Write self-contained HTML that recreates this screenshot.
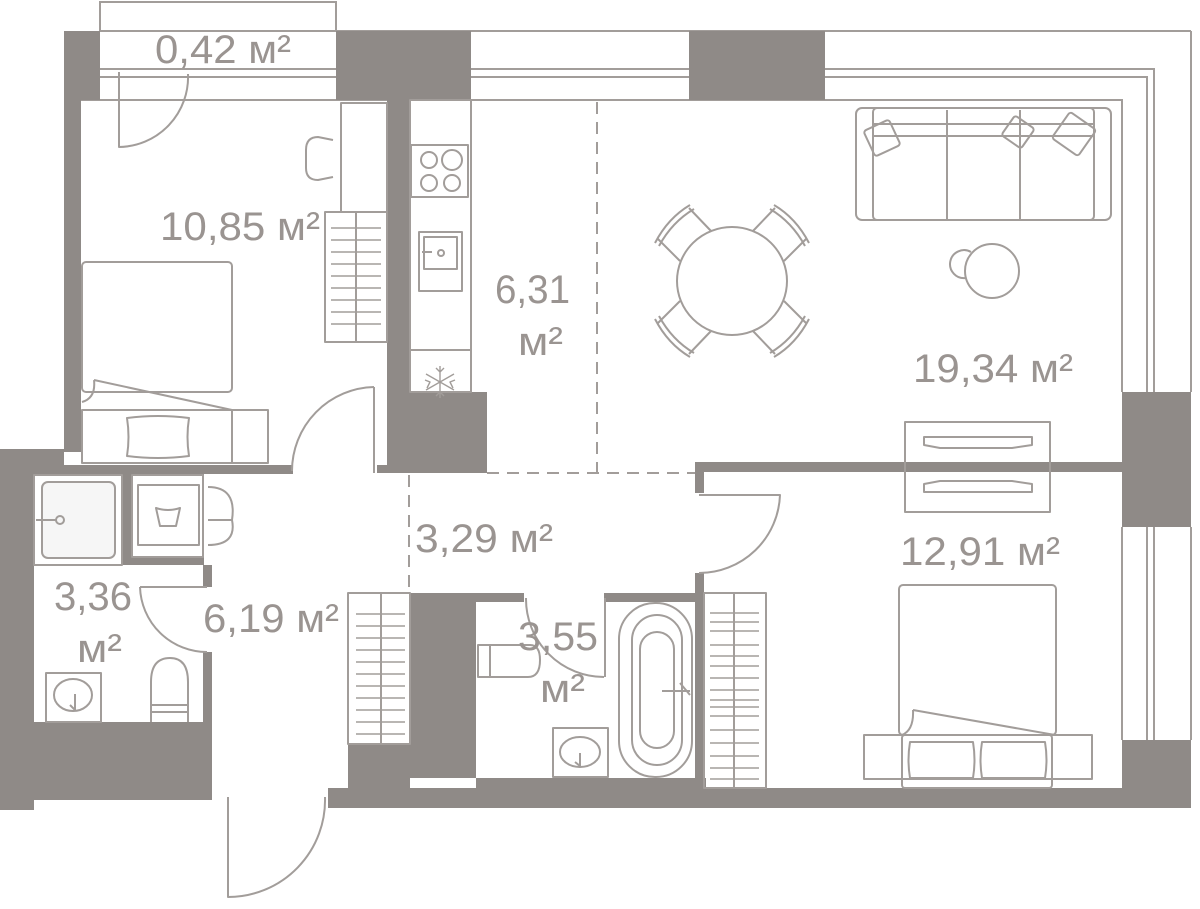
<!DOCTYPE html>
<html><head><meta charset="utf-8"><style>
html,body{margin:0;padding:0;background:#fff;}
svg{display:block;}
text{font-family:"Liberation Sans",sans-serif;fill:#9a9491;font-size:40px;}
</style></head><body>
<svg width="1200" height="909" viewBox="0 0 1200 909" xmlns="http://www.w3.org/2000/svg">
<g fill="none" stroke="#a29d9a" stroke-width="2">
<rect x="100" y="2" width="236" height="29"/>
<line x1="100" y1="69" x2="336" y2="69"/><line x1="100" y1="77" x2="336" y2="77"/>
<line x1="336" y1="31" x2="1191" y2="31"/>
<line x1="1191" y1="31" x2="1191" y2="392"/>
<polyline points="471,69 1154,69 1154,392"/>
<polyline points="471,77 1147,77 1147,392"/>
<polyline points="81,100 1122,100 1122,392"/>
<line x1="1147" y1="527" x2="1147" y2="740"/><line x1="1154" y1="527" x2="1154" y2="740"/>
<line x1="1191" y1="527" x2="1191" y2="740"/><line x1="1122" y1="527" x2="1122" y2="740"/>
</g>
<g fill="#8f8a87">
<rect x="64" y="31" width="36" height="69"/>
<rect x="64" y="100" width="17" height="352"/>
<rect x="0" y="449" width="34" height="361"/>
<rect x="0" y="449" width="64" height="16"/>
<rect x="336" y="31" width="135" height="69"/>
<rect x="689" y="31" width="136" height="69"/>
<rect x="387" y="100" width="23" height="373"/>
<rect x="410" y="392" width="77" height="81"/>
<rect x="82" y="465" width="211" height="9"/>
<rect x="377" y="465" width="10" height="8"/>
<rect x="34" y="465" width="170" height="10"/>
<rect x="122" y="475" width="10" height="90"/>
<rect x="122" y="557" width="82" height="8"/>
<rect x="203" y="565" width="9" height="22"/>
<rect x="203" y="652" width="9" height="146"/>
<rect x="34" y="722" width="178" height="78"/>
<rect x="410" y="593" width="66" height="185"/>
<rect x="348" y="744" width="62" height="44"/>
<rect x="328" y="788" width="863" height="20"/>
<rect x="476" y="778" width="230" height="10"/>
<rect x="476" y="593" width="48" height="9"/>
<rect x="604" y="593" width="91" height="9"/>
<rect x="695" y="462" width="427" height="10"/>
<rect x="695" y="462" width="9" height="31"/>
<rect x="695" y="573" width="9" height="215"/>
<rect x="1122" y="392" width="69" height="135"/>
<rect x="1122" y="740" width="69" height="68"/>
</g>
<g fill="none" stroke="#a29d9a" stroke-width="2" stroke-linejoin="round">
<line x1="597" y1="102" x2="597" y2="473" stroke-dasharray="12,8"/>
<line x1="487" y1="473" x2="695" y2="473" stroke-dasharray="12,8"/>
<line x1="409" y1="475" x2="409" y2="593" stroke-dasharray="12,8"/>
<path d="M119 72 V147 A70 70 0 0 0 188 74"/>
<rect x="341" y="103" width="46" height="109"/>
<path d="M333 140 L318 137 Q306 137 306 150 V168 Q306 180 318 180 L333 177"/>
<rect x="325" y="212" width="62" height="130"/>
<line x1="356" y1="212" x2="356" y2="342"/>
<g stroke-width="1.6">
<path d="M331 228H381M331 240H381M331 252H381M331 264H381M331 276H381M331 288H381M331 300H381M331 312H381M331 324H381"/>
</g>
<rect x="82" y="262" width="150" height="130" rx="4"/>
<path d="M94 380 L232 410 M94 380 Q96 398 82 402"/>
<rect x="82" y="410" width="186" height="53"/>
<line x1="232" y1="410" x2="232" y2="463"/>
<path d="M127 418 Q158 414 189 418 Q186 437 189 456 Q158 460 127 456 Q130 437 127 418Z"/>
<path d="M374 387 V473 M374 387 A84 84 0 0 0 292 471"/>
<rect x="410" y="100" width="61" height="292"/>
<line x1="410" y1="350" x2="471" y2="350"/>
<rect x="411" y="145" width="57" height="52"/>
<circle cx="429" cy="160" r="8"/><circle cx="452" cy="160" r="10"/>
<circle cx="429" cy="183" r="8"/><circle cx="452" cy="183" r="8"/>
<rect x="419" y="232" width="43" height="59"/>
<rect x="424" y="237" width="33" height="32"/>
<path d="M422 252 h10"/><circle cx="441" cy="253" r="3"/>
<path d="M440 366 V398 M426 374 L454 390 M454 374 L426 390 M436 368 L440 372 L444 368 M436 396 L440 392 L444 396 M425 380 L430 382 L427 388 M455 380 L450 382 L453 388" stroke-width="1.4"/>
<!-- living -->
<rect x="856" y="108" width="255" height="112" rx="6"/>
<rect x="873" y="108" width="221" height="112" rx="4"/>
<line x1="947" y1="110" x2="947" y2="220"/><line x1="1020" y1="110" x2="1020" y2="220"/>
<line x1="873" y1="124" x2="1094" y2="124"/><line x1="873" y1="136" x2="1094" y2="136"/>
<rect x="868" y="124" width="28" height="28" rx="3" transform="rotate(-25 882 138)"/>
<rect x="1006" y="120" width="24" height="24" rx="3" transform="rotate(35 1018 132)"/>
<rect x="1058" y="118" width="32" height="32" rx="3" transform="rotate(35 1074 134)"/>
<ellipse cx="732" cy="281" rx="55" ry="54"/>
<g id="ch"><path d="M711 231 L689 208 M680 261 L658 239 M655 243 Q668 218 690 205 M659 246 Q672 222 694 209"/></g>
<use href="#ch" transform="translate(1464 0) scale(-1 1)"/>
<use href="#ch" transform="translate(0 562) scale(1 -1)"/>
<use href="#ch" transform="translate(1464 562) scale(-1 -1)"/>
<circle cx="992" cy="271" r="27"/><path d="M966 278 A14 14 0 1 1 971 252"/>
<rect x="905" y="422" width="145" height="90"/>
<path d="M924 437 H1032 V445 L1012 448 H940 L924 445Z"/>
<path d="M924 492 H1032 V484 L1012 481 H940 L924 484Z"/>
<rect x="34" y="475" width="88" height="90"/>
<rect x="42" y="482" width="73" height="76" rx="6" fill="#f6f6f6"/>
<path d="M36 520 H57"/><circle cx="60" cy="520" r="4"/>
<rect x="132" y="475" width="71" height="82"/>
<rect x="138" y="485" width="61" height="60"/>
<path d="M156 508 L160 526 H176 L180 508 Q168 512 156 508Z"/>
<path d="M208 487 Q237 487 232 520 Q237 545 208 545 M208 520 H232"/>
<path d="M140 587 H207 M140 587 A67 67 0 0 0 207 652"/>
<rect x="46" y="673" width="55" height="49"/>
<ellipse cx="73" cy="695" rx="19" ry="16"/><path d="M75 694 V710 L70 705"/>
<path d="M151 722 V682 Q151 658 170 658 Q188 658 188 682 V722 M151 705 H188 M151 712 H188"/>
<path d="M228 797 V897 A97 97 0 0 0 325 797"/>
<rect x="348" y="593" width="62" height="151"/>
<line x1="381" y1="593" x2="381" y2="744"/>
<path d="M356 614H405M356 626H405M356 638H405M356 650H405M356 662H405M356 674H405M356 686H405M356 698H405M356 710H405M356 722H405M356 734H405" stroke-width="1.6"/>
<path d="M478 645 H530 Q540 645 540 660 Q540 677 528 677 H478Z M490 645 V677"/>
<path d="M526 598 A78 78 0 0 0 604 677 M605 598 V677"/>
<rect x="553" y="728" width="55" height="49"/>
<ellipse cx="580" cy="752" rx="20" ry="15"/><path d="M580 753 V766 L575 762"/>
<rect x="619" y="603" width="73" height="174" rx="36"/>
<rect x="632" y="615" width="50" height="150" rx="25"/>
<rect x="640" y="632" width="34" height="116" rx="17"/>
<path d="M662 691 H690 M680 683 L690 695"/>
<path d="M699 495 H780 A81 81 0 0 1 699 573"/>
<rect x="704" y="593" width="62" height="195"/>
<line x1="734" y1="593" x2="734" y2="788"/>
<path d="M710 613H759M710 622H759M710 631H759M710 645H759M710 656H759M710 666H759M710 678H759M710 690H759M710 700H759M710 707H759M710 716H759M710 730H759M710 743H759M710 756H759M710 768H759M710 779H759" stroke-width="1.6"/>
<rect x="899" y="585" width="157" height="150" rx="4"/>
<path d="M913 710 L1055 735 M913 710 Q914 730 902 735"/>
<rect x="864" y="735" width="228" height="44"/>
<rect x="902" y="735" width="150" height="53" rx="3"/>
<path d="M910 742 H973 Q976 760 973 778 H910 Q907 760 910 742Z"/>
<path d="M982 742 H1045 Q1048 760 1045 778 H982 Q979 760 982 742Z"/>
</g>
<text x="155" y="63" textLength="136" lengthAdjust="spacingAndGlyphs">0,42 м²</text>
<text x="160" y="240" textLength="160" lengthAdjust="spacingAndGlyphs">10,85 м²</text>
<text x="495" y="303" textLength="75" lengthAdjust="spacingAndGlyphs">6,31</text>
<text x="518" y="355" textLength="45" lengthAdjust="spacingAndGlyphs">м²</text>
<text x="913" y="382" textLength="160" lengthAdjust="spacingAndGlyphs">19,34 м²</text>
<text x="415" y="552" textLength="138" lengthAdjust="spacingAndGlyphs">3,29 м²</text>
<text x="900" y="565" textLength="160" lengthAdjust="spacingAndGlyphs">12,91 м²</text>
<text x="54" y="610" textLength="78" lengthAdjust="spacingAndGlyphs">3,36</text>
<text x="77" y="662" textLength="45" lengthAdjust="spacingAndGlyphs">м²</text>
<text x="203" y="632" textLength="136" lengthAdjust="spacingAndGlyphs">6,19 м²</text>
<text x="518" y="650" textLength="80" lengthAdjust="spacingAndGlyphs">3,55</text>
<text x="540" y="702" textLength="45" lengthAdjust="spacingAndGlyphs">м²</text>
</svg>
</body></html>
